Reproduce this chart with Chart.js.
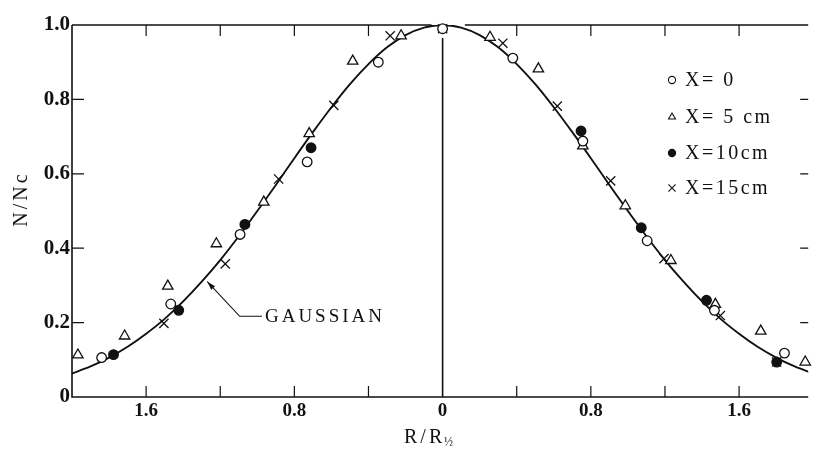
<!DOCTYPE html>
<html>
<head>
<meta charset="utf-8">
<script src="https://cdn.jsdelivr.net/npm/chart.js@4.4.0/dist/chart.umd.min.js"></script>
<style>
  html, body { margin: 0; padding: 0; background: #fff; }
</style>
</head>
<body>
<canvas id="myChart" width="816" height="451"></canvas>
<script>
// gaussian profile, N/Nc against R/R1/2
const curveX = [-2.0, -1.9, -1.8, -1.7, -1.6, -1.5, -1.4, -1.3, -1.2, -1.1, -1.0,
                -0.9, -0.8, -0.7, -0.6, -0.5, -0.4, -0.3, -0.2, -0.1, 0,
                0.1, 0.2, 0.3, 0.4, 0.5, 0.6, 0.7, 0.8, 0.9, 1.0,
                1.1, 1.2, 1.3, 1.4, 1.5, 1.6, 1.7, 1.8, 1.9, 2.0];
const curveY = [0.063, 0.082, 0.106, 0.135, 0.170, 0.210, 0.257, 0.310, 0.368, 0.432, 0.500,
                0.570, 0.642, 0.712, 0.779, 0.841, 0.895, 0.940, 0.973, 0.993, 1.000,
                0.993, 0.973, 0.940, 0.895, 0.841, 0.779, 0.712, 0.642, 0.570, 0.500,
                0.432, 0.368, 0.310, 0.257, 0.210, 0.170, 0.135, 0.106, 0.082, 0.063];

// measured points, one pair of arrays per station
const seriesLabels = ['X= 0', 'X= 5 cm', 'X=10cm', 'X=15cm'];

const x0R = [-1.84, -1.467, -1.093, -0.731, -0.347, 0, 0.379, 0.757, 1.104, 1.467, 1.845];
const x0N = [0.106, 0.250, 0.437, 0.632, 0.900, 0.99, 0.911, 0.688, 0.420, 0.233, 0.118];

const x5R = [-1.968, -1.716, -1.483, -1.221, -0.965, -0.72, -0.485, -0.224, 0.256, 0.517, 0.757, 0.986, 1.232, 1.472, 1.717, 1.957];
const x5N = [0.113, 0.164, 0.298, 0.412, 0.524, 0.708, 0.903, 0.971, 0.967, 0.882, 0.675, 0.514, 0.367, 0.249, 0.177, 0.094];

const x10R = [-1.776, -1.424, -1.067, -0.71, 0.747, 1.072, 1.424, 1.803];
const x10N = [0.114, 0.233, 0.464, 0.670, 0.715, 0.455, 0.260, 0.094];

const x15R = [-1.504, -1.173, -0.885, -0.587, -0.283, 0, 0.325, 0.619, 0.907, 1.195, 1.499, 1.803];
const x15N = [0.198, 0.358, 0.586, 0.784, 0.971, 0.99, 0.951, 0.782, 0.581, 0.372, 0.219, 0.094];

// axes
const xTickValues = [-1.6, -0.8, 0, 0.8, 1.6];
const xTickLabels = ['1.6', '0.8', '0', '0.8', '1.6'];
const xMinorTicks = [-1.6, -1.2, -0.8, -0.4, 0.4, 0.8, 1.2, 1.6];
const yTickValues = [0, 0.2, 0.4, 0.6, 0.8, 1.0];
const yTickLabels = ['0', '0.2', '0.4', '0.6', '0.8', '1.0'];

const ink = '#111';
const serif = "'Liberation Serif', 'DejaVu Serif', serif";

const pts = (xs, ys) => xs.map((v, i) => ({x: v, y: ys[i]}));

const sizeFor = style => style === 'triangle' ? 6 : style === 'crossRot' ? 6.5 : 4.8;

const marker = (label, xs, ys, style, fill) => ({
    label: label,
    data: pts(xs, ys),
    pointStyle: style,
    pointRadius: sizeFor(style),
    pointBackgroundColor: fill,
    pointBorderColor: ink,
    pointBorderWidth: 1.3,
    clip: false
});

// frame, inward ticks, titles, legend and the GAUSSIAN pointer
const frame = {
    id: 'frame',
    beforeDatasetsDraw(chart) {
        const {ctx, chartArea: a, scales: {x, y}} = chart;
        ctx.save();
        ctx.strokeStyle = ink;
        ctx.lineWidth = 1.6;
        ctx.beginPath();
        ctx.moveTo(a.left, a.top);
        ctx.lineTo(a.left, a.bottom);
        ctx.lineTo(a.right, a.bottom);
        ctx.moveTo(a.left, a.top);
        ctx.lineTo(x.getPixelForValue(-0.06), a.top);
        ctx.moveTo(x.getPixelForValue(0.12), a.top);
        ctx.lineTo(a.right, a.top);
        ctx.moveTo(x.getPixelForValue(0), y.getPixelForValue(0.965));
        ctx.lineTo(x.getPixelForValue(0), a.bottom);
        ctx.stroke();

        ctx.lineWidth = 1.2;
        ctx.beginPath();
        xMinorTicks.forEach(v => {
            const px = x.getPixelForValue(v);
            ctx.moveTo(px, a.top); ctx.lineTo(px, a.top + 11);
            ctx.moveTo(px, a.bottom); ctx.lineTo(px, a.bottom - 11);
        });
        yTickValues.slice(1, -1).forEach(v => {
            const py = y.getPixelForValue(v);
            ctx.moveTo(a.left, py); ctx.lineTo(a.left + 12, py);
            ctx.moveTo(a.right, py); ctx.lineTo(a.right - 8, py);
        });
        ctx.stroke();
        ctx.restore();
    },
    afterDatasetsDraw(chart) {
        const {ctx, scales: {x, y}} = chart;
        ctx.save();
        ctx.fillStyle = ink;
        ctx.strokeStyle = ink;

        // axis titles
        ctx.font = '20px ' + serif;
        ctx.letterSpacing = '3px';
        ctx.textBaseline = 'middle';
        ctx.textAlign = 'left';
        ctx.fillText('R/R', 404, 438);
        ctx.font = '12px ' + serif;
        ctx.letterSpacing = '0px';
        ctx.fillText('½', 444, 443);

        ctx.save();
        ctx.translate(22, 199);
        ctx.rotate(-Math.PI / 2);
        ctx.font = '20px ' + serif;
        ctx.letterSpacing = '3px';
        ctx.textAlign = 'center';
        ctx.fillText('N/Nc', 0, 0);
        ctx.restore();

        // legend
        const rows = [80, 117, 153, 188];
        chart.data.datasets.slice(0, 4).forEach((ds, i) => {
            ctx.fillStyle = ds.pointBackgroundColor;
            ctx.strokeStyle = ink;
            ctx.lineWidth = 1.1;
            Chart.helpers.drawPoint(ctx, {
                pointStyle: ds.pointStyle,
                radius: ds.pointStyle === 'triangle' ? 4 : ds.pointStyle === 'crossRot' ? 5 : 3.6,
                rotation: 0,
                borderWidth: 1.1
            }, 672, rows[i]);
            ctx.fillStyle = ink;
            ctx.font = '20px ' + serif;
            ctx.letterSpacing = '2.5px';
            ctx.textAlign = 'left';
            ctx.fillText(ds.label, 685, rows[i] + 1);
        });

        // GAUSSIAN label with its pointer
        const tipX = x.getPixelForValue(-1.27), tipY = y.getPixelForValue(0.31);
        const elbX = x.getPixelForValue(-1.095), elbY = y.getPixelForValue(0.217);
        const endX = x.getPixelForValue(-0.975);
        ctx.lineWidth = 1.1;
        ctx.beginPath();
        ctx.moveTo(endX, elbY);
        ctx.lineTo(elbX, elbY);
        ctx.lineTo(tipX, tipY);
        ctx.stroke();
        const ang = Math.atan2(tipY - elbY, tipX - elbX);
        ctx.beginPath();
        ctx.moveTo(tipX, tipY);
        ctx.lineTo(tipX - 9 * Math.cos(ang - 0.3), tipY - 9 * Math.sin(ang - 0.3));
        ctx.lineTo(tipX - 9 * Math.cos(ang + 0.3), tipY - 9 * Math.sin(ang + 0.3));
        ctx.closePath();
        ctx.fill();
        ctx.font = '19px ' + serif;
        ctx.letterSpacing = '3px';
        ctx.fillText('GAUSSIAN', endX + 3, elbY + 1);
        ctx.restore();
    }
};

const config = {
    type: 'scatter',
    data: {
        datasets: [
            marker(seriesLabels[0], x0R, x0N, 'circle', '#fff'),
            marker(seriesLabels[1], x5R, x5N, 'triangle', '#fff'),
            marker(seriesLabels[2], x10R, x10N, 'circle', ink),
            marker(seriesLabels[3], x15R, x15N, 'crossRot', ink),
            {
                label: 'GAUSSIAN',
                data: pts(curveX, curveY),
                showLine: true,
                borderColor: ink,
                borderWidth: 1.9,
                pointRadius: 0,
                tension: 0.3
            }
        ]
    },
    options: {
        responsive: false,
        animation: false,
        layout: { padding: { top: 25, right: 0, left: 0, bottom: 0 } },
        plugins: {
            legend: { display: false },
            tooltip: { enabled: false }
        },
        scales: {
            x: {
                type: 'linear',
                min: -2.0,
                max: 1.973,
                grid: { display: false },
                border: { display: false },
                afterFit: s => { s.height = 54; },
                afterBuildTicks: s => { s.ticks = xTickValues.map(v => ({value: v})); },
                ticks: {
                    padding: -5,
                    color: ink,
                    font: { family: serif, size: 19, weight: 'bold' },
                    callback: (v, i) => xTickLabels[i]
                }
            },
            y: {
                min: 0,
                max: 1.0,
                grid: { display: false },
                border: { display: false },
                afterFit: s => { s.width = 72; },
                afterBuildTicks: s => { s.ticks = yTickValues.map(v => ({value: v})); },
                ticks: {
                    padding: -6,
                    color: ink,
                    font: { family: serif, size: 21, weight: 'bold' },
                    callback: (v, i) => yTickLabels[i]
                }
            }
        }
    },
    plugins: [frame]
};

const myChart = new Chart(document.getElementById('myChart'), config);
</script>
</body>
</html>
